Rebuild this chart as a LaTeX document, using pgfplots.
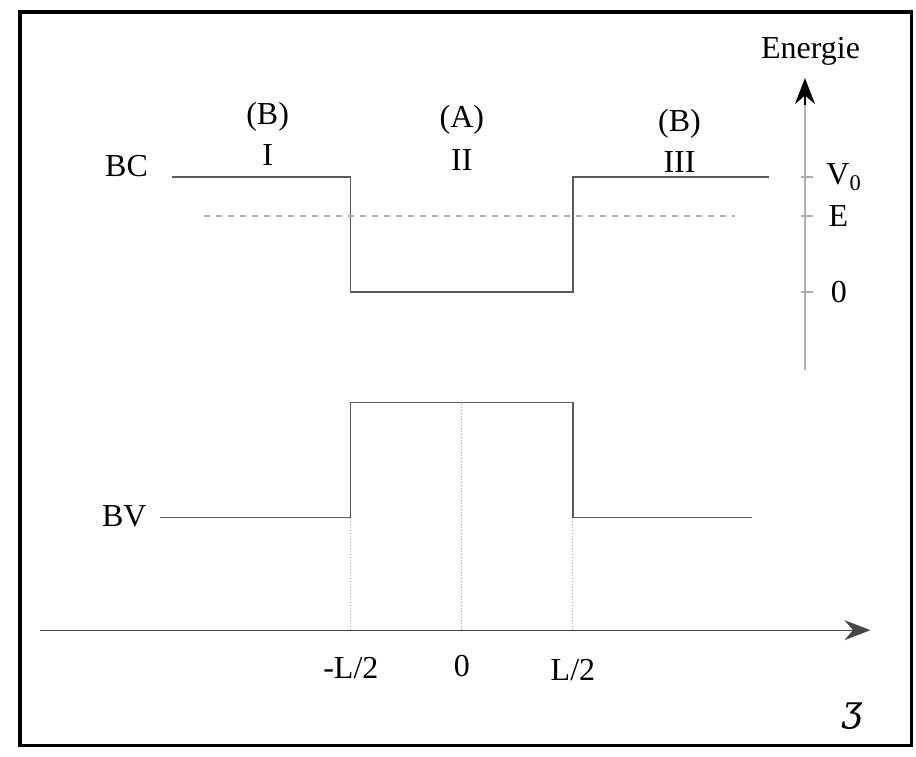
\documentclass[border=0pt]{standalone}
\usepackage{pgfplots}
\pgfplotsset{compat=1.18}
\usepackage{fontspec}
\setmainfont{Liberation Serif}
\newfontfamily\dv{DejaVu Serif}
\usetikzlibrary{arrows.meta}

\definecolor{lineg}{RGB}{90,90,90}
\definecolor{lightg}{RGB}{175,175,175}

\begin{document}
\begin{tikzpicture}[font=\fontsize{16}{19}\selectfont]
\begin{axis}[
    scale only axis,
    x=55.5pt, y=50pt,
    xmin=-4.16, xmax=4.09,
    ymin=-1.26, ymax=6.3,
    hide axis,
    clip=false,
]
% fix the picture size
\path (rel axis cs:0,0) rectangle (rel axis cs:1,1);

% frame
\draw[line width=1.6pt, black] (axis cs:-3.98,-1.15) rectangle (axis cs:4.05,6.18);

% z axis
\addplot[lineg!80!black, line width=0.6pt, -{Stealth[length=13pt,width=10pt]}]
    coordinates {(-3.8,0) (3.68,0)};

% guide lines at -L/2, 0, L/2
\addplot[lightg, densely dotted, line width=0.5pt] coordinates {(-1,0) (-1,1.13)};
\addplot[lightg, densely dotted, line width=0.5pt] coordinates {(0,0) (0,2.28)};
\addplot[lightg, densely dotted, line width=0.5pt] coordinates {(1,0) (1,1.13)};

% energy axis
\addplot[lightg, line width=0.6pt] coordinates {(3.09,2.6) (3.09,5.3)};
\draw[-{Stealth[length=13pt,width=10pt]}, black, line width=0.6pt]
    (axis cs:3.09,5.25) -- (axis cs:3.09,5.52);
\addplot[lightg, line width=0.6pt] coordinates {(3.05,4.53) (3.16,4.53)};
\addplot[lightg, line width=0.6pt] coordinates {(3.05,4.14) (3.16,4.14)};
\addplot[lightg, line width=0.6pt] coordinates {(3.05,3.38) (3.16,3.38)};
\node[anchor=south] at (axis cs:3.14,5.58) {Energie};
\node[anchor=west] at (axis cs:3.22,4.53) {V\textsubscript{0}};
\node[anchor=west] at (axis cs:3.24,4.14) {E};
\node[anchor=west] at (axis cs:3.26,3.38) {0};

% conduction band (BC)
\addplot[lineg, line width=0.6pt] coordinates {
    (-2.61,4.53) (-1,4.53) (-1,3.38) (1,3.38) (1,4.53) (2.77,4.53)};
% energy level E
\addplot[lightg, dashed, line width=0.6pt] coordinates {(-2.32,4.14) (2.46,4.14)};

% valence band (BV)
\addplot[lineg, line width=0.6pt] coordinates {
    (-2.72,1.13) (-1,1.13) (-1,2.28) (1,2.28) (1,1.13) (2.61,1.13)};

% labels
\node at (axis cs:-3.02,4.64) {BC};
\node at (axis cs:-3.04,1.14) {BV};
\node at (axis cs:-1.75,5.13) {(B)};
\node at (axis cs:-1.75,4.75) {I};
\node at (axis cs:0,5.10) {(A)};
\node at (axis cs:0,4.70) {II};
\node at (axis cs:1.96,5.06) {(B)};
\node at (axis cs:1.96,4.68) {III};

\node at (axis cs:-1,-0.38) {-L/2};
\node at (axis cs:0,-0.36) {0};
\node at (axis cs:1,-0.40) {L/2};
\node at (axis cs:3.52,-0.86) {\fontsize{18}{20}\selectfont\dv\itshape ʒ};
\end{axis}
\end{tikzpicture}
\end{document}
